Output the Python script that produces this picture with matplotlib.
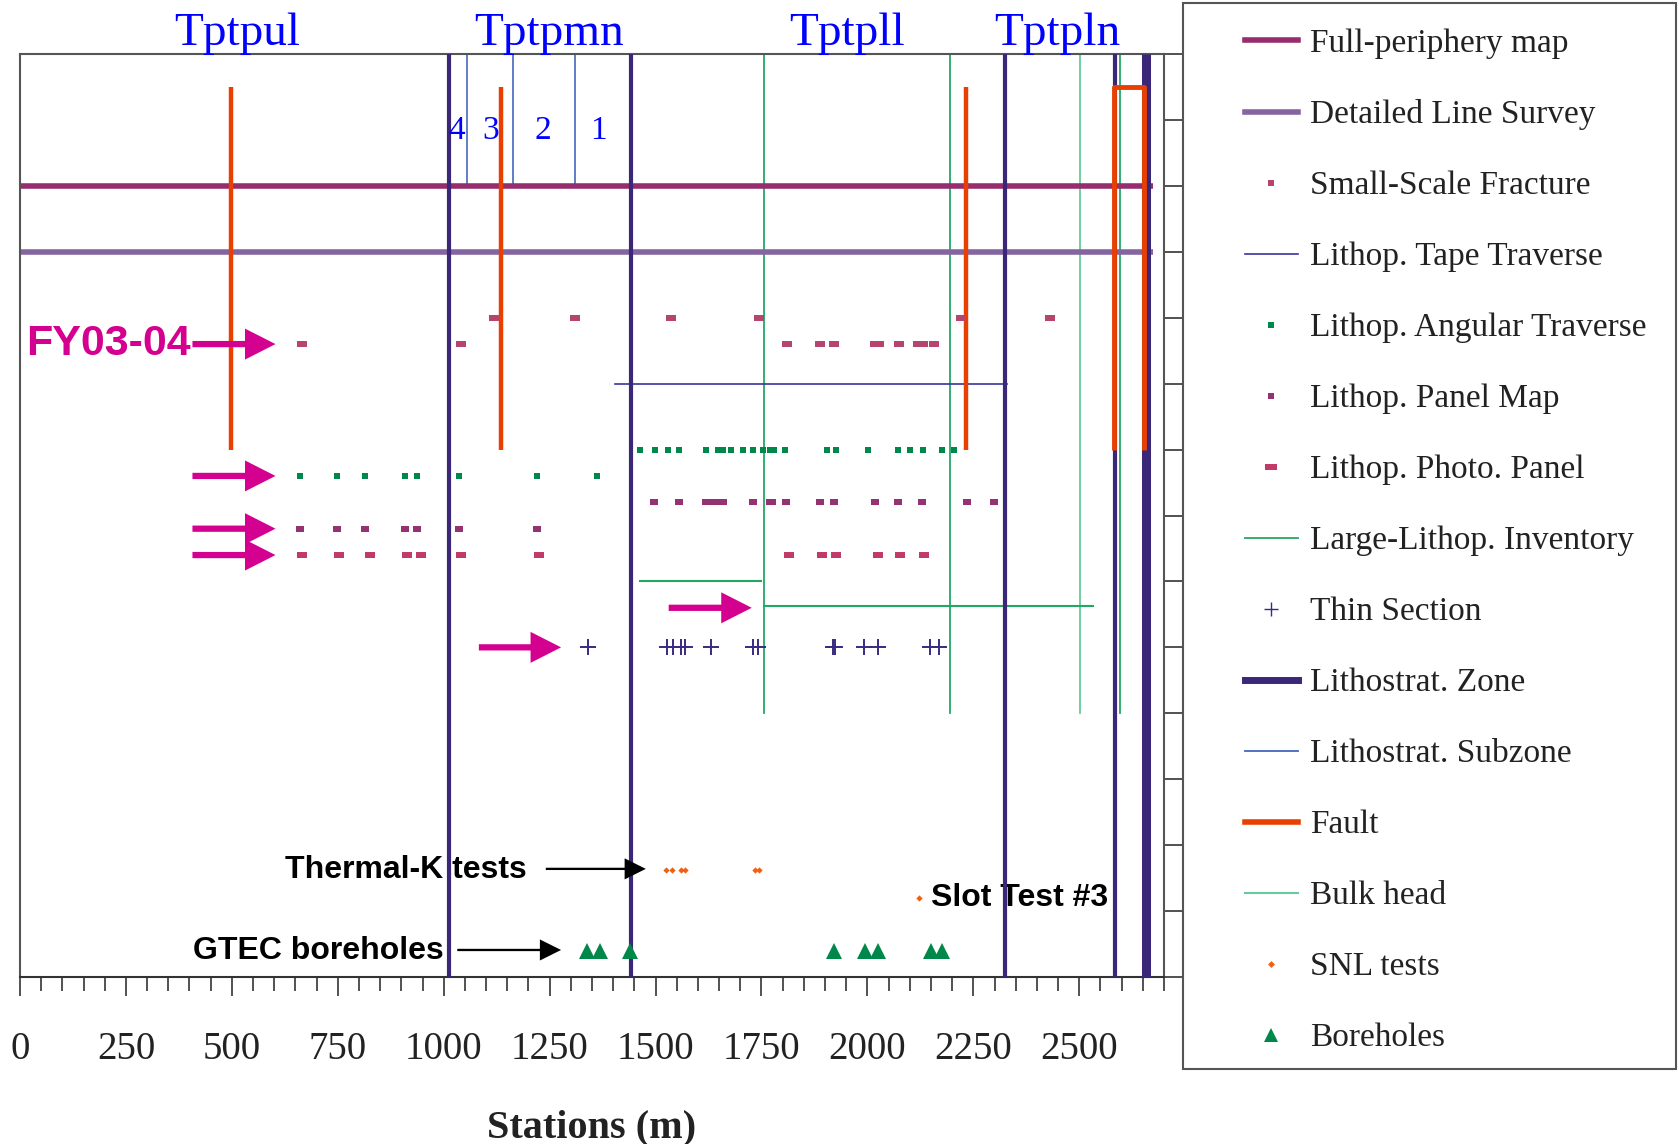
import numpy as np
import matplotlib
matplotlib.use('Agg')
import matplotlib.pyplot as plt
from matplotlib.lines import Line2D
from matplotlib.patches import Rectangle

# ---- data (stations in m, rows are y positions, 0 = top) ----
zone_x = [1013, 1442, 2325, 2584]
zone_x_thick = [2657]
zone_names = ['Tptpul', 'Tptpmn', 'Tptpll', 'Tptpln']
zone_name_x = [513, 1249, 1953, 2448]
subzone_x = [1055, 1164, 1310]
subzone_names = ['4', '3', '2', '1']
subzone_name_x = [1030, 1110, 1234, 1366]

fault_x = [498, 1136, 2233]
fault_box_x = [2582, 2582, 2653, 2653]
fault_box_y = [6, 0.5, 0.5, 6]

periphery_x = [0, 2675]
line_survey_x = [0, 2675]
tape_x = [1405, 2330]

fracture_row1 = [1119, 1310, 1536, 1743, 2222, 2431]
fracture_row2 = [666, 1040, 1810, 1889, 1922, 2018, 2028, 2074, 2120, 2132, 2156]

angular_row1 = [1464, 1498, 1530, 1555, 1618, 1647, 1659, 1677, 1706, 1729, 1753,
                1769, 1779, 1805, 1905, 1925, 2002, 2073, 2101, 2131, 2175, 2205]
angular_row2 = [662, 747, 815, 909, 938, 1036, 1220, 1362]

panel_row1 = [1496, 1555, 1618, 1632, 1644, 1659, 1729, 1769, 1776, 1809, 1889,
              1922, 2019, 2073, 2130, 2236, 2299]
panel_row2 = [662, 747, 815, 909, 938, 1036, 1220]

photo_row = [666, 752, 826, 914, 947, 1041, 1225, 1814, 1894, 1927, 2024, 2078, 2134]

inventory_h1 = [1464, 1748]
inventory_h2 = [1757, 2532]
inventory_v = [1757, 2196, 2596]
bulkhead_x = [2502]

thin_section = [1341, 1527, 1541, 1559, 1569, 1630, 1731, 1741, 1918, 1923, 1993,
                2024, 2148, 2170]
snl_tests = [1524, 1538, 1559, 1569, 1734, 1743]
slot_test = [2122]
boreholes = [1339, 1369, 1440, 1920, 1995, 2024, 2150, 2175]

# row positions
Y_PERIPH, Y_SURVEY = 2, 3
Y_FRAC1, Y_FRAC2 = 4, 4.4
Y_TAPE = 5
Y_ANG1, Y_ANG2 = 6, 6.4
Y_PANEL1, Y_PANEL2 = 6.8, 7.2
Y_PHOTO = 7.6
Y_INV1, Y_INV2 = 8, 8.38
Y_THIN = 9
Y_SNL, Y_SLOT = 12.38, 12.8
Y_BORE = 13.6

c_periph = '#962d6e'
c_survey = '#8465a0'
c_frac = '#b5446e'
c_tape = '#3a3599'
c_ang = '#00874a'
c_panel = '#943272'
c_photo = '#c23a66'
c_inv = '#22a865'
c_thin = '#3a2a80'
c_zone = '#3a2777'
c_sub = '#4466bb'
c_fault = '#e84000'
c_bulk = '#66cc99'
c_snl = '#f06010'
c_bore = '#00884a'
c_arrow = '#d4008f'
c_blue = '#0000ff'

rect_wide = [(-1, -0.55), (1, -0.55), (1, 0.55), (-1, 0.55), (-1, -0.55)]
rect_mid = [(-1, -0.8), (1, -0.8), (1, 0.8), (-1, 0.8), (-1, -0.8)]

serif = ['Liberation Serif', 'DejaVu Serif']
sans = ['Liberation Sans', 'DejaVu Sans']

fig = plt.figure(figsize=(16.79, 11.44), dpi=100)
ax = fig.add_axes([20 / 1679, 1 - 977 / 1144, (1164 - 20) / 1679, (977 - 54) / 1144])
ax.set_xlim(0, 2700)
ax.set_ylim(14, 0)

# vertical structure lines
for x in inventory_v:
    ax.plot([x, x], [0, 10], color=c_inv, lw=1.3, zorder=1)
for x in bulkhead_x:
    ax.plot([x, x], [0, 10], color=c_bulk, lw=1.3, zorder=1)
for x in subzone_x:
    ax.plot([x, x], [0, Y_PERIPH], color=c_sub, lw=1.2, zorder=1)

ax.plot(periphery_x, [Y_PERIPH] * 2, color=c_periph, lw=4, zorder=2, solid_capstyle='butt')
ax.plot(line_survey_x, [Y_SURVEY] * 2, color=c_survey, lw=4, zorder=2, solid_capstyle='butt')
ax.plot(tape_x, [Y_TAPE] * 2, color=c_tape, lw=1.2, zorder=2)
ax.plot(inventory_h1, [Y_INV1] * 2, color=c_inv, lw=1.5, zorder=2)
ax.plot(inventory_h2, [Y_INV2] * 2, color=c_inv, lw=1.5, zorder=2)

for x in zone_x:
    ax.plot([x, x], [0, 14], color=c_zone, lw=3, zorder=3, solid_capstyle='butt')
for x in zone_x_thick:
    ax.plot([x, x], [0, 14], color=c_zone, lw=6.5, zorder=3, solid_capstyle='butt')

for x in fault_x:
    ax.plot([x, x], [0.5, 6], color=c_fault, lw=3.2, zorder=4, solid_capstyle='butt')
ax.plot(fault_box_x, fault_box_y, color=c_fault, lw=3.5, zorder=4, solid_capstyle='butt')

# point data
kw = dict(ls='none', mew=0, zorder=5)
ax.plot(fracture_row1, [Y_FRAC1] * len(fracture_row1), marker=rect_wide, ms=7, color=c_frac, **kw)
ax.plot(fracture_row2, [Y_FRAC2] * len(fracture_row2), marker=rect_wide, ms=7, color=c_frac, **kw)
ax.plot(angular_row1, [Y_ANG1] * len(angular_row1), marker='s', ms=4.2, color=c_ang, **kw)
ax.plot(angular_row2, [Y_ANG2] * len(angular_row2), marker='s', ms=4.2, color=c_ang, **kw)
ax.plot(panel_row1, [Y_PANEL1] * len(panel_row1), marker=rect_mid, ms=5.5, color=c_panel, **kw)
ax.plot(panel_row2, [Y_PANEL2] * len(panel_row2), marker=rect_mid, ms=5.5, color=c_panel, **kw)
ax.plot(photo_row, [Y_PHOTO] * len(photo_row), marker=rect_wide, ms=7.5, color=c_photo, **kw)
ax.plot(thin_section, [Y_THIN] * len(thin_section), ls='none', marker='+', ms=11,
        mew=1.4, color=c_thin, zorder=5)
ax.plot(snl_tests, [Y_SNL] * len(snl_tests), marker='D', ms=3.2, color=c_snl, **kw)
ax.plot(slot_test, [Y_SLOT], marker='D', ms=3.2, color=c_snl, **kw)
ax.plot(boreholes, [Y_BORE] * len(boreholes), marker='^', ms=12, color=c_bore, **kw)

# magenta arrows pointing to the FY03-04 data
for y, x0, x1 in [(Y_FRAC2, 407, 603), (Y_ANG2, 407, 603), (Y_PANEL2, 407, 603),
                  (Y_PHOTO, 407, 603), (Y_THIN, 1083, 1277), (Y_INV2 + 0.02, 1531, 1727)]:
    ax.arrow(x0, y, x1 - x0, 0, width=0.095, head_width=0.47, head_length=72,
             length_includes_head=True, color=c_arrow, lw=0, zorder=6)

ax.text(402, Y_FRAC2, 'FY03-04', ha='right', va='center',
        fontsize=31, fontweight='bold', color=c_arrow, family=sans, zorder=7)

# black arrows with notes
for y, x0, x1 in [(Y_SNL - 0.02, 1241, 1477), (Y_BORE - 0.01, 1032, 1277)]:
    ax.arrow(x0, y, x1 - x0, 0, width=0.035, head_width=0.32, head_length=50,
             length_includes_head=True, color='black', lw=0, zorder=6)
ax.text(1197, Y_SNL, 'Thermal-K tests', ha='right', va='center', fontsize=23,
        fontweight='bold', family=sans, zorder=2)
ax.text(999, Y_BORE, 'GTEC boreholes', ha='right', va='center', fontsize=23,
        fontweight='bold', family=sans, zorder=2)
ax.text(2151, Y_SLOT, 'Slot Test #3', ha='left', va='center', fontsize=23,
        fontweight='bold', family=sans, zorder=2)

# zone / subzone names
for name, x in zip(zone_names, zone_name_x):
    ax.text(x, -0.30, name, ha='center', va='center', fontsize=34, color=c_blue,
            family=serif, clip_on=False)
for name, x in zip(subzone_names, subzone_name_x):
    ax.text(x, 1.17, name, ha='center', va='center', fontsize=24, color=c_blue,
            family=serif, zorder=6)

# axes styling
ax.set_xticks(np.arange(0, 2501, 250))
ax.set_xticks(np.arange(0, 2701, 50), minor=True)
ax.set_xticklabels([str(v) for v in range(0, 2501, 250)], family=serif, fontsize=28,
                   color='#222222')
ax.tick_params(axis='x', which='major', direction='out', length=14, width=1.2, pad=25,
               color='#333333')
ax.tick_params(axis='x', which='minor', direction='out', length=10, width=1.2,
               color='#333333')
ax.set_yticks(np.arange(0, 15))
ax.tick_params(axis='y', which='both', left=False, right=True, labelleft=False,
               labelright=False, direction='out', length=14, width=1.2, color='#333333')
for side in ['left', 'top', 'right', 'bottom']:
    ax.spines[side].set_color('#555555')
    ax.spines[side].set_linewidth(1.5)
ax.spines['bottom'].set_color('#333333')

ax.set_xlabel('Stations (m)', family=serif, fontsize=29, fontweight='bold',
              color='#222222', labelpad=30)

# legend
labels = ['Full-periphery map', 'Detailed Line Survey', 'Small-Scale Fracture',
          'Lithop. Tape Traverse', 'Lithop. Angular Traverse', 'Lithop. Panel Map',
          'Lithop. Photo. Panel', 'Large-Lithop. Inventory', 'Thin Section',
          'Lithostrat. Zone', 'Lithostrat. Subzone', 'Fault', 'Bulk head', 'SNL tests',
          'Boreholes']
handles = [
    Line2D([], [], color=c_periph, lw=4),
    Line2D([], [], color=c_survey, lw=4),
    Line2D([], [], ls='none', marker='s', ms=5, mew=0, color=c_frac),
    Line2D([], [], color=c_tape, lw=1.2),
    Line2D([], [], ls='none', marker='s', ms=5, mew=0, color=c_ang),
    Line2D([], [], ls='none', marker='s', ms=5, mew=0, color=c_panel),
    Line2D([], [], ls='none', marker=rect_wide, ms=8, mew=0, color=c_photo),
    Line2D([], [], color=c_inv, lw=1.3),
    Line2D([], [], ls='none', marker='+', ms=10, mew=1.0, color=c_thin),
    Line2D([], [], color=c_zone, lw=5),
    Line2D([], [], color=c_sub, lw=1.3),
    Line2D([], [], color=c_fault, lw=4),
    Line2D([], [], color=c_bulk, lw=1.5),
    Line2D([], [], ls='none', marker='D', ms=3.5, mew=0, color=c_snl),
    Line2D([], [], ls='none', marker='^', ms=10, mew=0, color=c_bore),
]
fig.patches.append(Rectangle((1183 / 1679, 1 - 1069 / 1144), (1676 - 1183) / 1679,
                             (1069 - 3) / 1144, transform=fig.transFigure,
                             fill=False, edgecolor='#555555', lw=1.5))
leg = fig.legend(handles, labels, loc='upper left',
                 bbox_to_anchor=(1218 / 1679, 1 - 1.5 / 1144), frameon=False,
                 prop={'family': serif, 'size': 24}, handlelength=1.6,
                 handletextpad=0.35, labelspacing=1.215, borderpad=0.3)
for t in leg.get_texts():
    t.set_color('#222222')

fig.savefig('out.png', dpi=100)
